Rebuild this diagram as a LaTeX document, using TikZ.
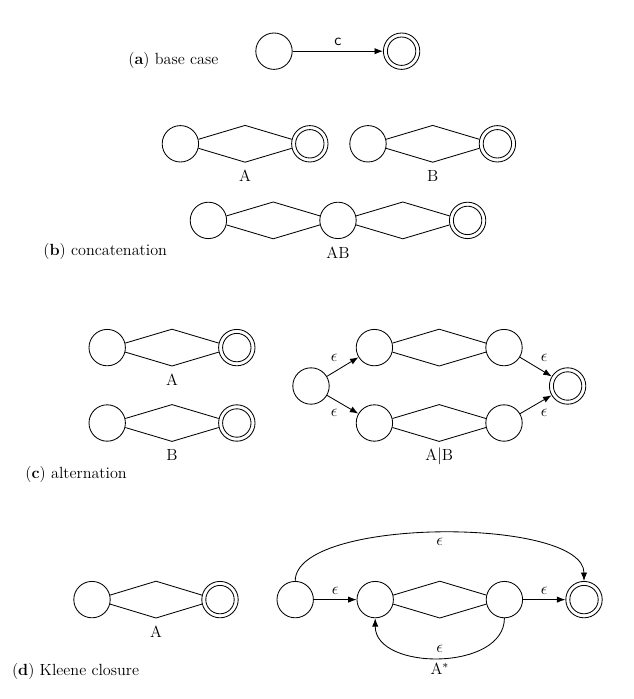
\documentclass[tikz,border=0pt]{standalone}
\usepackage{fontspec}
\usepackage{tikz}
\usetikzlibrary{calc,arrows.meta}

\tikzset{
  state/.style={circle,draw,minimum size=.91cm,inner sep=0pt},
  final/.style={state,path picture={\draw (path picture bounding box.center) circle (.355);}},
  caption/.style={anchor=base west,inner sep=0pt},
  trans/.style={-{Latex[length=6pt,width=4.5pt]}}
}
% the two-sided box between two states, lower tip named #3
\newcommand{\lens}[3]{%
  \draw (#1.14) -- ($(#1)!.5!(#2)+(0,.46)$) -- (#2.166);
  \draw (#1.-14) -- ($(#1)!.5!(#2)-(0,.46)$) coordinate (#3) -- (#2.-166);
}

\begin{document}
\begin{tikzpicture}[line width=.6pt,font=\fontsize{11.5}{13}\selectfont]
  \useasboundingbox (0,0) rectangle (15.825,-17.475);

  % (a)
  \node[caption] (capa) at (3.2,-1.625) {(\textbf{a}) base case};
  \node[state] (a1) at (6.85,-1.28) {};
  \node[final] (a2) at (10.04,-1.28) {};
  \draw[trans] (a1) -- node[above]{\textsf{c}} (a2);

  % (b)
  \node[state] (bA1) at (4.51,-3.595) {};
  \node[final] (bA2) at (7.745,-3.595) {};
  \lens{bA1}{bA2}{bAlo}
  \node[below=2pt] (labbA) at (bAlo) {A};
  \node[state] (bB1) at (9.2,-3.595) {};
  \node[final] (bB2) at (12.435,-3.595) {};
  \lens{bB1}{bB2}{bBlo}
  \node[below=2pt] (labbB) at (bBlo) {B};
  \node[state] (bC1) at (5.21,-5.51) {};
  \node[state] (bC2) at (8.45,-5.51) {};
  \node[final] (bC3) at (11.69,-5.51) {};
  \lens{bC1}{bC2}{bClo}
  \lens{bC2}{bC3}{bCrlo}
  \node[below=2pt] (labbAB) at (bC2.south) {AB};
  \node[caption] (capb) at (1.075,-6.4) {(\textbf{b}) concatenation};

  % (c)
  \node[state] (cA1) at (2.68,-8.69) {};
  \node[final] (cA2) at (5.92,-8.69) {};
  \lens{cA1}{cA2}{cAlo}
  \node[below=2pt] (labcA) at (cAlo) {A};
  \node[state] (cB1) at (2.68,-10.575) {};
  \node[final] (cB2) at (5.92,-10.575) {};
  \lens{cB1}{cB2}{cBlo}
  \node[below=2pt] (labcB) at (cBlo) {B};
  \node[state] (c0) at (7.775,-9.65) {};
  \node[state] (c1) at (9.36,-8.69) {};
  \node[state] (c2) at (12.6,-8.69) {};
  \node[state] (c3) at (9.36,-10.575) {};
  \node[state] (c4) at (12.6,-10.575) {};
  \node[final] (c5) at (14.19,-9.65) {};
  \lens{c1}{c2}{cuplo}
  \lens{c3}{c4}{cdnlo}
  \draw[trans] (c0) -- node[above left]{$\epsilon$} (c1);
  \draw[trans] (c0) -- node[below left]{$\epsilon$} (c3);
  \draw[trans] (c2) -- node[above right]{$\epsilon$} (c5);
  \draw[trans] (c4) -- node[below right]{$\epsilon$} (c5);
  \node[below=1pt] (labcAB) at (cdnlo) {A$|$B};
  \node[caption] (capc) at (.625,-11.96) {(\textbf{c}) alternation};

  % (d)
  \node[state] (dA1) at (2.3,-14.99) {};
  \node[final] (dA2) at (5.5,-14.99) {};
  \lens{dA1}{dA2}{dAlo}
  \node[below=2pt] (labdA) at (dAlo) {A};
  \node[state] (d0) at (7.38,-14.99) {};
  \node[state] (d1) at (9.38,-14.99) {};
  \node[state] (d2) at (12.61,-14.99) {};
  \node[final] (d3) at (14.6,-14.99) {};
  \lens{d1}{d2}{dlo}
  \draw[trans] (d0) -- node[above]{$\epsilon$} (d1);
  \draw[trans] (d2) -- node[above]{$\epsilon$} (d3);
  \draw[trans] (d0) to[out=90,in=90,looseness=.57] node[below]{$\epsilon$} (d3);
  \draw[trans] (d2) to[out=-90,in=-90,looseness=1.05] node[above]{$\epsilon$} node[below]{A$^\ast$} (d1);
  \node[caption] (capd) at (.29,-16.875) {(\textbf{d}) Kleene closure};
\end{tikzpicture}
\end{document}
